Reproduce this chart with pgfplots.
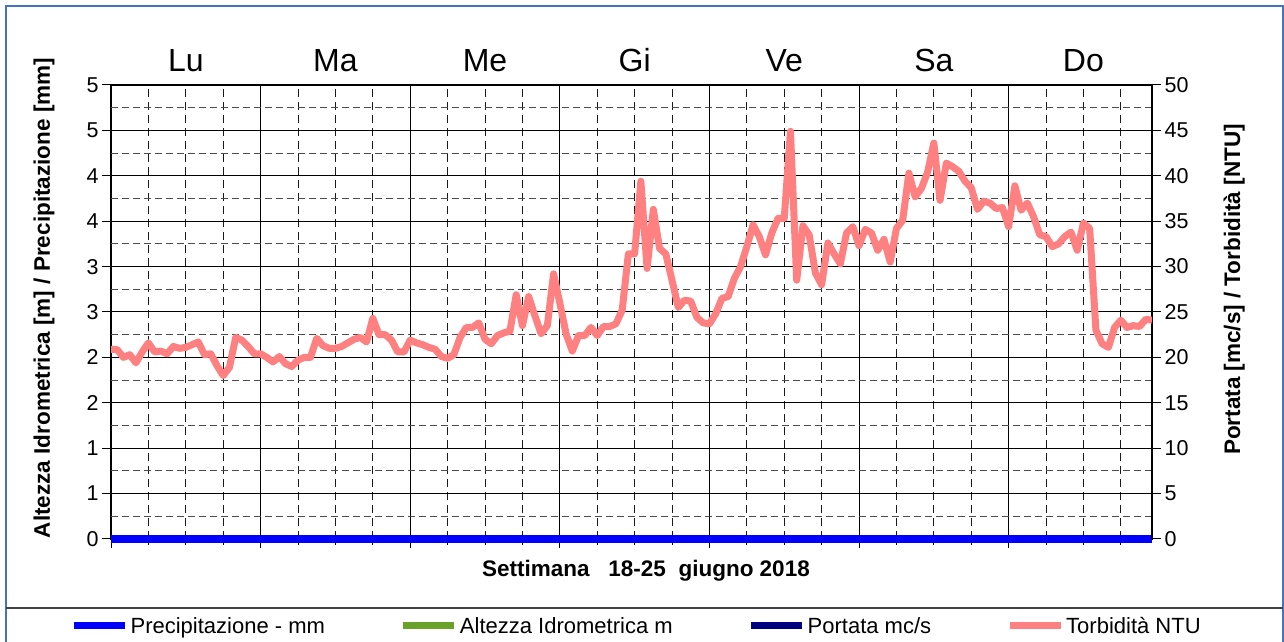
\documentclass[border=0pt]{standalone}
\usepackage{fontspec}
\setmainfont{Liberation Sans}
\usepackage{pgfplots}
\pgfplotsset{compat=1.18}
\usepackage{pgfplotstable}

\definecolor{precip}{RGB}{0,0,255}
\definecolor{altezza}{RGB}{106,161,40}
\definecolor{portata}{RGB}{0,0,128}
\definecolor{torb}{RGB}{255,128,128}
\definecolor{frameblue}{RGB}{68,114,196}

\pgfplotstableread{
h v
0 20.9
1 20.85
2 20.0
3 20.3
4 19.4
5 20.6
6 21.6
7 20.6
8 20.7
9 20.4
10 21.2
11 21.0
12 21.1
13 21.4
14 21.7
15 20.3
16 20.4
17 19.1
18 18.0
19 18.9
20 22.2
21 21.9
22 21.2
23 20.4
24 20.4
25 20.0
26 19.5
27 20.1
28 19.3
29 19.0
30 19.7
31 20.0
32 20.0
33 22.1
34 21.3
35 21.0
36 21.0
37 21.2
38 21.6
39 22.0
40 22.2
41 21.7
42 24.3
43 22.5
44 22.5
45 21.9
46 20.6
47 20.6
48 21.9
49 21.6
50 21.4
51 21.1
52 20.9
53 20.1
54 19.9
55 20.3
56 22.2
57 23.3
58 23.3
59 23.8
60 22.0
61 21.5
62 22.4
63 22.7
64 22.9
65 26.9
66 23.5
67 26.7
68 24.6
69 22.6
70 23.5
71 29.2
72 26.0
73 22.6
74 20.7
75 22.4
76 22.4
77 23.3
78 22.4
79 23.4
80 23.4
81 23.7
82 25.2
83 31.4
84 31.4
85 39.4
86 29.8
87 36.3
88 32.0
89 31.4
90 28.5
91 25.5
92 26.3
93 26.2
94 24.4
95 23.8
96 23.7
97 24.8
98 26.5
99 26.7
100 28.7
101 30.0
102 32.2
103 34.6
104 33.3
105 31.3
106 33.7
107 35.3
108 35.3
109 44.9
110 28.5
111 34.5
112 33.5
113 29.3
114 28.0
115 32.6
116 31.4
117 30.3
118 33.7
119 34.4
120 32.3
121 34.1
122 33.7
123 31.8
124 33.0
125 30.5
126 34.2
127 35.1
128 40.3
129 37.7
130 38.6
131 40.4
132 43.6
133 37.3
134 41.4
135 41.0
136 40.5
137 39.4
138 38.7
139 36.3
140 37.2
141 37.0
142 36.4
143 36.5
144 34.4
145 38.9
146 36.2
147 37.0
148 35.5
149 33.5
150 33.3
151 32.2
152 32.5
153 33.3
154 33.8
155 31.8
156 34.8
157 34.2
158 23.0
159 21.5
160 21.1
161 23.3
162 24.1
163 23.3
164 23.5
165 23.4
166 24.2
167 24.1
}\torbtable

\pgfplotstableread{
h v
0 0
24 0
48 0
72 0
96 0
120 0
144 0
167 0
}\preciptable

\begin{document}
\begin{tikzpicture}
\useasboundingbox (0pt,0pt) rectangle (1284pt,642pt);
\draw[frameblue, line width=1.5pt] (6pt,-20pt) -- (6pt,636pt) -- (1283pt,636pt) -- (1283pt,-20pt);
\draw[black!75, line width=1.2pt] (6pt,34pt) -- (1283pt,34pt);

\begin{axis}[
  at={(111pt,103pt)}, anchor=south west,
  scale only axis, width=1041pt, height=454pt,
  xmin=0, xmax=167, ymin=0, ymax=5,
  xtick={0,24,48,72,96,120,144}, xticklabels={},
  minor xtick={6,12,18,30,36,42,54,60,66,78,84,90,102,108,114,126,132,138,150,156,162},
  ytick={0,0.5,1,1.5,2,2.5,3,3.5,4,4.5,5},
  yticklabels={0,1,1,2,2,3,3,4,4,5,5},
  extra y ticks={0.25,0.75,1.25,1.75,2.25,2.75,3.25,3.75,4.25,4.75},
  extra y tick labels={},
  extra y tick style={major tick length=0pt, ymajorgrids=true,
     major grid style={black!70, line width=1pt, dash pattern=on 7pt off 4pt}},
  xmajorgrids=true, xminorgrids=true, ymajorgrids=true,
  major grid style={black, line width=1pt},
  minor grid style={black!90, line width=0.95pt, dash pattern=on 8pt off 5pt},
  tick align=outside, xtick pos=left, ytick pos=left,
  major tick length=9pt, minor tick length=6pt,
  every tick/.style={black, line width=1pt},
  axis line style={black, line width=1.1pt},
  yticklabel style={font=\fontsize{21.5}{25}\selectfont},
  clip=false,
  legend columns=4,
  legend cell align=left,
  legend style={at={(rel axis cs:-0.039,-0.1916)}, anchor=west, draw=none, fill=none,
    inner xsep=0pt, inner ysep=0pt, font=\fontsize{22}{26}\selectfont,
    /tikz/every even column/.append style={column sep=73pt}},
  legend image code/.code={\draw[#1] (0pt,0pt) -- (51pt,0pt);},
]
\addplot[precip, line width=7pt] table[x=h,y=v]{\preciptable};
\addlegendentry{Precipitazione - mm}
\addlegendimage{altezza, line width=7pt}
\addlegendentry{Altezza Idrometrica m}
\addlegendimage{portata, line width=7pt}
\addlegendentry{Portata mc/s}
\addlegendimage{torb, line width=7pt}
\addlegendentry{Torbidità NTU}

\node[anchor=base, yshift=13pt, font=\fontsize{32}{36}\selectfont] at (axis cs:12,5) {Lu};
\node[anchor=base, yshift=13pt, font=\fontsize{32}{36}\selectfont] at (axis cs:36,5) {Ma};
\node[anchor=base, yshift=13pt, font=\fontsize{32}{36}\selectfont] at (axis cs:60,5) {Me};
\node[anchor=base, yshift=13pt, font=\fontsize{32}{36}\selectfont] at (axis cs:84,5) {Gi};
\node[anchor=base, yshift=13pt, font=\fontsize{32}{36}\selectfont] at (axis cs:108,5) {Ve};
\node[anchor=base, yshift=13pt, font=\fontsize{32}{36}\selectfont] at (axis cs:132,5) {Sa};
\node[anchor=base, yshift=13pt, font=\fontsize{32}{36}\selectfont] at (axis cs:156,5) {Do};
\end{axis}

\begin{axis}[
  at={(111pt,103pt)}, anchor=south west,
  scale only axis, width=1041pt, height=454pt,
  xmin=0, xmax=167, ymin=0, ymax=50,
  axis x line=none, axis y line*=right,
  ytick={0,5,10,15,20,25,30,35,40,45,50},
  tick align=outside, major tick length=9pt,
  every tick/.style={black, line width=1pt},
  axis line style={black, line width=1.1pt},
  yticklabel style={font=\fontsize{21.5}{25}\selectfont},
  /pgf/number format/assume math mode=true,
]
\addplot[torb, line width=7pt, line join=round] table[x=h,y=v]{\torbtable};
\end{axis}

\node[anchor=base, font=\bfseries\fontsize{22.5}{26}\selectfont] at (646pt,65pt) {Settimana \ \ 18-25 \ giugno 2018};
\node[rotate=90, anchor=base, font=\bfseries\fontsize{22.5}{26}\selectfont] at (50pt,344pt) {Altezza Idrometrica [m] / Precipitazione [mm]};
\node[rotate=90, anchor=base, font=\bfseries\fontsize{22.5}{26}\selectfont] at (1240pt,352.5pt) {Portata [mc/s] / Torbidità [NTU]};
\end{tikzpicture}
\end{document}
